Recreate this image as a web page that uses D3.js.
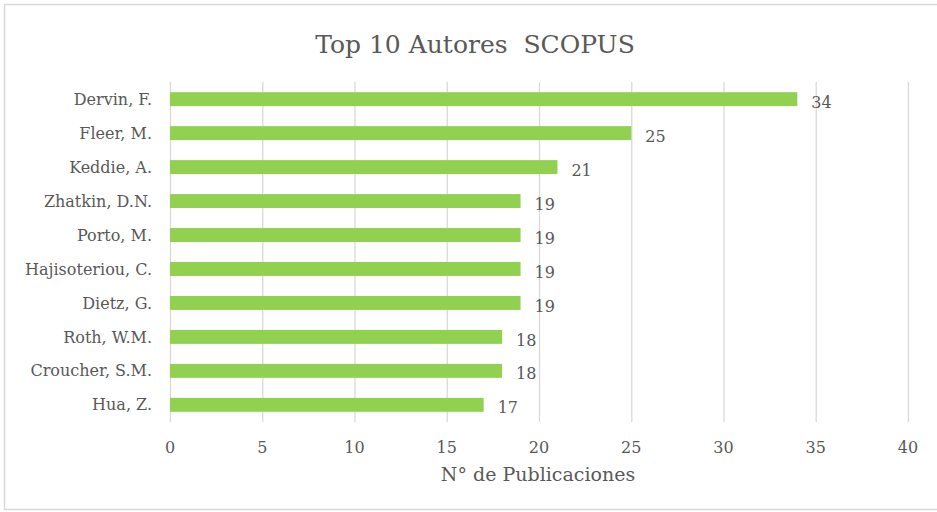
<!DOCTYPE html>
<html>
<head>
<meta charset="utf-8">
<script src="https://cdn.jsdelivr.net/npm/d3@7"></script>
<style>
  body { margin: 0; background: #fff; }
</style>
</head>
<body>
<div id="chart"></div>
<script>
const autores = ["Dervin, F.", "Fleer, M.", "Keddie, A.", "Zhatkin, D.N.", "Porto, M.",
  "Hajisoteriou, C.", "Dietz, G.", "Roth, W.M.", "Croucher, S.M.", "Hua, Z."];
const publicaciones = [34, 25, 21, 19, 19, 19, 19, 18, 18, 17];
const xTicks = [0, 5, 10, 15, 20, 25, 30, 35, 40];

const WIDTH = 937, HEIGHT = 512;
const margin = { top: 82, right: 29, bottom: 90, left: 170 };
const FONT = "DejaVu Serif";

const svg = d3.select("#chart").append("svg")
  .attr("width", WIDTH).attr("height", HEIGHT)
  .style("font-family", FONT);

// chart border
svg.append("rect").attr("x", 4.5).attr("y", 4.5).attr("width", WIDTH + 10).attr("height", 505)
  .attr("fill", "none").attr("stroke", "#d9d9d9").attr("stroke-width", 1.5);

const x = d3.scaleLinear().domain([0, 40]).range([margin.left, WIDTH - margin.right]);
const y = d3.scaleBand().domain(autores).range([margin.top, HEIGHT - margin.bottom]).paddingInner(0.59).paddingOuter(0.3);

// gridlines
svg.append("g").selectAll("line").data(xTicks).join("line")
  .attr("x1", d => x(d) + 0.5).attr("x2", d => x(d) + 0.5)
  .attr("y1", margin.top).attr("y2", HEIGHT - margin.bottom)
  .attr("stroke", "#d9d9d9").attr("stroke-width", 1.3);

// bars
svg.append("g").selectAll("rect").data(autores).join("rect")
  .attr("x", x(0)).attr("y", d => y(d))
  .attr("width", (d, i) => x(publicaciones[i]) - x(0))
  .attr("height", y.bandwidth())
  .attr("fill", "#92d050");

const txt = sel => sel.attr("fill", "#595959").attr("font-family", FONT);

// value labels
svg.append("g").selectAll("text").data(autores).join("text")
  .attr("x", (d, i) => x(publicaciones[i]) + 14)
  .attr("y", d => y(d) + y.bandwidth() / 2 + 3)
  .attr("dy", "0.35em").attr("font-size", 16)
  .call(txt)
  .text((d, i) => publicaciones[i]);

// category labels
svg.append("g").selectAll("text").data(autores).join("text")
  .attr("x", margin.left - 18)
  .attr("y", d => y(d) + y.bandwidth() / 2)
  .attr("dy", "0.35em").attr("text-anchor", "end").attr("font-size", 16)
  .call(txt)
  .text(d => d);

// x tick labels
svg.append("g").selectAll("text").data(xTicks).join("text")
  .attr("x", d => x(d)).attr("y", 447)
  .attr("dy", "0.35em").attr("text-anchor", "middle").attr("font-size", 16)
  .call(txt)
  .text(d => d);

// axis title
svg.append("text").attr("x", 538).attr("y", 474).attr("dy", "0.35em")
  .attr("text-anchor", "middle").attr("font-size", 19)
  .call(txt)
  .text("N° de Publicaciones");

// title
svg.append("text").attr("x", 475).attr("y", 44).attr("dy", "0.35em")
  .attr("text-anchor", "middle").attr("font-size", 25)
  .call(txt)
  .style("white-space", "pre")
  .text("Top 10 Autores  SCOPUS");
</script>
</body>
</html>
